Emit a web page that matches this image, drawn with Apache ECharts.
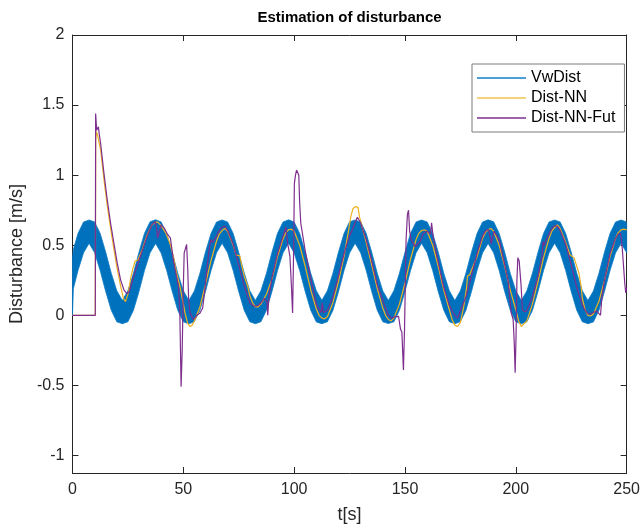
<!DOCTYPE html>
<html><head><meta charset="utf-8">
<script src="https://cdn.jsdelivr.net/npm/echarts@6/dist/echarts.min.js"></script>
<style>html,body{margin:0;padding:0;background:#fff}#c{width:643px;height:529px}</style>
</head><body><div id="c"></div>
<script>
// ---- tick labels ----
const xTicks = [0, 50, 100, 150, 200, 250];
const yTicks = [-1, -0.5, 0, 0.5, 1, 1.5, 2];

// ---- VwDist: dense oscillating signal, drawn as its upper / lower envelope ----
const vwT = [0, 0.4,
  2.5, 5, 7.5, 10, 12.5, 15, 17.5, 20, 22.5, 25, 27.5, 30,
  32.5, 35, 37.5, 40, 42.5, 45, 47.5, 50, 52.5, 55, 57.5, 60,
  62.5, 65, 67.5, 70, 72.5, 75, 77.5, 80, 82.5, 85, 87.5, 90,
  92.5, 95, 97.5, 100, 102.5, 105, 107.5, 110, 112.5, 115, 117.5, 120,
  122.5, 125, 127.5, 130, 132.5, 135, 137.5, 140, 142.5, 145, 147.5, 150,
  152.5, 155, 157.5, 160, 162.5, 165, 167.5, 170, 172.5, 175, 177.5, 180,
  182.5, 185, 187.5, 190, 192.5, 195, 197.5, 200, 202.5, 205, 207.5, 210,
  212.5, 215, 217.5, 220, 222.5, 225, 227.5, 230, 232.5, 235, 237.5, 240,
  242.5, 245, 247.5, 250];
const vwUpper = [0.40, 0.47,
  0.584, 0.666, 0.680, 0.666, 0.584, 0.450, 0.300, 0.175, 0.106, 0.175, 0.300, 0.450,
  0.585, 0.667, 0.682, 0.666, 0.583, 0.450, 0.300, 0.176, 0.105, 0.174, 0.300, 0.451,
  0.584, 0.666, 0.680, 0.665, 0.584, 0.449, 0.301, 0.175, 0.106, 0.175, 0.299, 0.450,
  0.585, 0.666, 0.681, 0.666, 0.584, 0.450, 0.300, 0.175, 0.107, 0.175, 0.300, 0.450,
  0.584, 0.667, 0.680, 0.666, 0.585, 0.450, 0.300, 0.174, 0.106, 0.176, 0.300, 0.450,
  0.584, 0.666, 0.680, 0.666, 0.584, 0.451, 0.300, 0.175, 0.105, 0.175, 0.301, 0.450,
  0.583, 0.666, 0.681, 0.667, 0.584, 0.450, 0.299, 0.175, 0.106, 0.175, 0.300, 0.449,
  0.584, 0.666, 0.680, 0.666, 0.584, 0.450, 0.300, 0.175, 0.106, 0.174, 0.300, 0.450,
  0.584, 0.666, 0.680, 0.666];
const vwLower = [0.00, 0.19,
  0.320, 0.446, 0.514, 0.446, 0.320, 0.170, 0.036, -0.046, -0.060, -0.046, 0.036, 0.170,
  0.321, 0.446, 0.513, 0.445, 0.320, 0.171, 0.036, -0.046, -0.061, -0.045, 0.036, 0.170,
  0.320, 0.447, 0.514, 0.446, 0.319, 0.170, 0.035, -0.046, -0.060, -0.046, 0.037, 0.170,
  0.320, 0.446, 0.515, 0.446, 0.320, 0.170, 0.036, -0.047, -0.060, -0.046, 0.036, 0.169,
  0.320, 0.445, 0.514, 0.446, 0.321, 0.170, 0.036, -0.046, -0.059, -0.046, 0.036, 0.170,
  0.319, 0.446, 0.514, 0.447, 0.320, 0.170, 0.037, -0.046, -0.060, -0.045, 0.036, 0.170,
  0.320, 0.446, 0.513, 0.446, 0.320, 0.169, 0.036, -0.046, -0.061, -0.046, 0.035, 0.170,
  0.320, 0.446, 0.514, 0.446, 0.320, 0.170, 0.036, -0.046, -0.060, -0.047, 0.036, 0.171,
  0.320, 0.446, 0.514, 0.446];

// ---- Dist-NN [t, value] ----
const nnData = [[0,0],[10.3,0],[10.5,1.25],[10.8,1.31],[11.4,1.28],[12.7,1.18],[14.2,0.97],[15.7,0.78],[17.2,0.62],[18.7,0.47],[20.2,0.33],[21.7,0.21],[23.0,0.12],[23.9,0.098],[24.6,0.10],[25.2,0.16],[26.1,0.253],[27.2,0.33],[28.2,0.385],[29.5,0.395],[30.2,0.40],[31.5,0.47],[33.6,0.57],[35.8,0.645],[37.5,0.665],[38.5,0.665],[40,0.64],[42,0.59],[44,0.514],[45.5,0.42],[47,0.3],[48.5,0.205],[50.8,0.016],[52.0,-0.06],[53.0,-0.08],[54.0,-0.07],[55,-0.04],[57.5,0.06],[60,0.22],[62.5,0.39],[65,0.53],[66.25,0.58],[67.5,0.605],[68.75,0.62],[70,0.6],[72.5,0.5],[73.8,0.43],[74.5,0.42],[75.5,0.425],[76.3,0.36],[77.5,0.28],[79.2,0.2],[80,0.14],[81.25,0.09],[82.5,0.06],[83.75,0.06],[85,0.08],[87.5,0.15],[90,0.26],[92.5,0.42],[95,0.545],[96.25,0.59],[97.5,0.61],[98.75,0.615],[100,0.6],[102.5,0.5],[105,0.35],[107.5,0.18],[110,0.045],[111.25,0.0],[112.5,-0.02],[113.75,-0.025],[115,-0.01],[117.5,0.09],[120,0.24],[122.5,0.42],[124.5,0.6],[125.5,0.7],[126.5,0.76],[127.5,0.775],[128.8,0.77],[129.5,0.7],[130.5,0.64],[132.5,0.52],[135,0.36],[137.5,0.19],[140,0.05],[141.25,0.0],[142.5,-0.03],[143.75,-0.04],[145,-0.02],[147.5,0.08],[150,0.23],[152.5,0.4],[155,0.54],[156.25,0.585],[157.5,0.605],[158.75,0.61],[160,0.6],[162.5,0.5],[165,0.35],[167.5,0.18],[170,0.04],[171.25,-0.03],[172.5,-0.07],[173.75,-0.08],[175,-0.05],[176.5,0.06],[177.8,0.2],[178.2,0.28],[179.2,0.29],[180,0.3],[182.5,0.42],[185,0.55],[186.25,0.59],[187.5,0.61],[188.75,0.62],[190,0.6],[192.5,0.5],[195,0.35],[197.5,0.18],[200,0.04],[201.25,-0.04],[202.5,-0.08],[203.3,-0.09],[205,-0.04],[207.5,0.08],[210,0.24],[212.5,0.41],[215,0.55],[216.25,0.6],[217.5,0.625],[218.75,0.645],[220,0.62],[222.5,0.52],[224.5,0.43],[225.3,0.42],[226.3,0.41],[227.3,0.36],[228.5,0.30],[229.5,0.2],[230,0.12],[231.25,0.04],[232.5,0.0],[233.75,-0.005],[235,0.01],[237.5,0.1],[240,0.25],[242.5,0.42],[245,0.55],[246.25,0.59],[247.5,0.61],[248.75,0.615],[250,0.61]];

// ---- Dist-NN-Fut [t, value] ----
const futData = [[0,0],[10.3,0],[10.45,1.44],[10.9,1.32],[11.3,1.31],[11.7,1.345],[12.1,1.29],[12.7,1.226],[14.2,1.013],[15.7,0.823],[17.2,0.657],[18.7,0.514],[20.2,0.372],[21.7,0.253],[23.2,0.182],[24.6,0.153],[25.6,0.17],[27.6,0.276],[30.6,0.42],[33.6,0.56],[35.8,0.645],[37.3,0.668],[37.9,0.63],[38.4,0.55],[38.9,0.58],[40,0.645],[41.5,0.62],[43,0.575],[43.6,0.585],[44.2,0.55],[45.5,0.395],[47.8,0.205],[48.4,0.05],[49.0,-0.51],[49.5,-0.25],[50.0,0.2],[50.4,0.445],[51.5,0.505],[52.0,0.33],[52.4,0.12],[53.0,0.02],[54.5,-0.03],[56,0.0],[57.5,0.015],[58.7,0.05],[59.5,0.15],[60.5,0.31],[61.5,0.45],[62.4,0.54],[63.2,0.52],[65,0.567],[66.25,0.607],[67.5,0.628],[68.75,0.637],[70,0.606],[72.5,0.507],[75,0.36],[77.5,0.21],[80,0.09],[81.25,0.07],[82.5,0.065],[83.75,0.07],[85,0.09],[86.5,0.12],[87.7,0.10],[88.1,0.0],[88.6,0.13],[90,0.27],[92.5,0.44],[95,0.567],[96.3,0.63],[97,0.52],[98.1,0.42],[98.8,0.2],[99.3,0.016],[99.8,0.5],[100.1,0.94],[100.6,1.0],[101.1,1.036],[101.6,1.05],[102.1,1.0],[102.5,0.8],[103,0.657],[105,0.46],[107.5,0.26],[110,0.08],[111.25,0.04],[112.2,0.02],[112.7,0.09],[113.2,0.02],[115,0.034],[117.5,0.133],[120,0.281],[122.5,0.44],[125,0.567],[126.25,0.61],[127.5,0.66],[128.5,0.70],[130,0.66],[132.5,0.54],[135,0.39],[137.5,0.22],[140.4,0.087],[142.5,0.0],[144.1,-0.02],[145.5,-0.01],[147.1,-0.008],[148.0,-0.1],[148.6,-0.12],[149.3,-0.39],[149.8,-0.1],[150.5,0.54],[151.1,0.72],[151.6,0.75],[152.1,0.6],[152.8,0.54],[154.6,0.49],[156.8,0.525],[158.3,0.585],[160,0.6],[161.5,0.58],[162.0,0.66],[162.3,0.668],[162.8,0.55],[165,0.38],[167.5,0.2],[170,0.073],[171.25,0.033],[172.5,0.0],[173.75,-0.02],[175,0.034],[177.5,0.133],[180,0.281],[182.5,0.44],[185,0.567],[186.25,0.6],[187.5,0.615],[188.3,0.57],[188.9,0.51],[189.5,0.55],[190.2,0.6],[191.1,0.61],[192.5,0.54],[195,0.36],[196.5,0.25],[197.9,0.02],[198.8,-0.03],[199.3,-0.2],[199.7,-0.41],[200.1,-0.15],[200.5,0.25],[200.9,0.41],[201.5,0.39],[202.3,0.23],[203,0.04],[204,0.025],[205,0.035],[207.5,0.133],[210,0.281],[211.8,0.42],[212.3,0.525],[212.8,0.50],[213.5,0.53],[215,0.58],[216.25,0.62],[217.5,0.64],[218.75,0.635],[220,0.606],[222.5,0.507],[225,0.36],[227.5,0.2],[230,0.073],[231.25,0.035],[232.5,0.012],[233.75,0.01],[235,0.02],[236.5,0.03],[237.4,0.02],[238.2,0.0],[238.8,0.12],[240,0.25],[242.5,0.44],[245,0.55],[246.25,0.58],[247.2,0.585],[247.6,0.55],[248.0,0.48],[248.6,0.48],[249.2,0.22],[249.6,0.16],[250,0.2]];

const FONT = '"Liberation Sans", Arial, Helvetica, sans-serif';
const AX = '#262626';

const chart = echarts.init(document.getElementById('c'), null, {renderer: 'canvas'});

const baseX = {
  type: 'value', min: 0, max: 250, interval: 50,
  splitLine: {show: false},
  axisLine: {show: true, onZero: false, lineStyle: {color: AX, width: 1}},
  axisTick: {show: true, inside: true, length: 6, lineStyle: {color: AX, width: 1}}
};
const baseY = {
  type: 'value', min: -1.125, max: 2,
  splitLine: {show: false},
  axisLine: {show: true, onZero: false, lineStyle: {color: AX, width: 1}},
  axisTick: {show: true, inside: true, length: 6, customValues: yTicks, lineStyle: {color: AX, width: 1}}
};

chart.setOption({
  animation: false,
  backgroundColor: '#fff',
  title: {
    text: 'Estimation of disturbance', left: 349.5, top: 10, textAlign: 'center', padding: 0,
    textStyle: {fontFamily: FONT, fontSize: 15, fontWeight: 'bold', color: '#000'}
  },
  grid: {left: 70, top: 35, width: 559, height: 439, containLabel: false},
  legend: {
    orient: 'vertical', left: 472, top: 64,
    padding: [6, 9, 6, 5], itemGap: 4, itemWidth: 49, itemHeight: 14,
    borderColor: '#7a7a7a', borderWidth: 1, backgroundColor: '#fff',
    textStyle: {fontFamily: FONT, fontSize: 16, lineHeight: 16, color: '#000'},
    data: [
      {name: 'VwDist', icon: 'path://M0,0L49,0L49,2L0,2Z', itemStyle: {color: '#4f9fd6'}},
      {name: 'Dist-NN', icon: 'path://M0,0L49,0L49,1.3L0,1.3Z', itemStyle: {color: '#f0c350'}},
      {name: 'Dist-NN-Fut', icon: 'path://M0,0L49,0L49,1.3L0,1.3Z', itemStyle: {color: '#7E2F8E'}}
    ]
  },
  xAxis: [
    Object.assign({}, baseX, {
      position: 'bottom',
      axisLabel: {show: true, color: AX, fontFamily: FONT, fontSize: 16, margin: 9,
        customValues: xTicks},
      name: 't[s]', nameLocation: 'middle', nameGap: 33,
      nameTextStyle: {fontFamily: FONT, fontSize: 18, color: AX}
    }),
    Object.assign({}, baseX, {position: 'top', axisLabel: {show: false}})
  ],
  yAxis: [
    Object.assign({}, baseY, {
      position: 'left',
      axisLabel: {show: true, color: AX, fontFamily: FONT, fontSize: 16, margin: 8,
        customValues: yTicks},
      name: 'Disturbance [m/s]', nameLocation: 'middle', nameGap: 41,
      nameTextStyle: {fontFamily: FONT, fontSize: 18, color: AX}
    }),
    Object.assign({}, baseY, {position: 'right', axisLabel: {show: false}})
  ],
  series: [
    {
      name: 'VwDistBand', type: 'custom', xAxisIndex: 0, yAxisIndex: 0, z: 2,
      data: vwT.map((t, i) => [t, vwUpper[i], vwLower[i]]),
      encode: {x: 0, y: [1, 2]},
      renderItem: function (params, api) {
        if (params.dataIndex !== 0) return null;
        const pts = [];
        for (let i = 0; i < vwT.length; i++) pts.push(api.coord([vwT[i], vwUpper[i]]));
        for (let i = vwT.length - 1; i >= 0; i--) pts.push(api.coord([vwT[i], vwLower[i]]));
        return {type: 'polygon', shape: {points: pts},
          style: {fill: '#0072BD', stroke: '#0a7ac4', lineWidth: 0.8}};
      },
      silent: true
    },
    {name: 'VwDist', type: 'line', data: [], symbol: 'none', color: '#0072BD',
      lineStyle: {color: '#0072BD', width: 2}},
    {name: 'Dist-NN', type: 'line', data: nnData, symbol: 'none', z: 3, color: '#EDB120',
      lineStyle: {color: '#EDB120', width: 1.2}, silent: true},
    {name: 'Dist-NN-Fut', type: 'line', data: futData, symbol: 'none', z: 4, color: '#7E2F8E',
      lineStyle: {color: '#7E2F8E', width: 1.2}, silent: true}
  ]
});
</script>
</body></html>
